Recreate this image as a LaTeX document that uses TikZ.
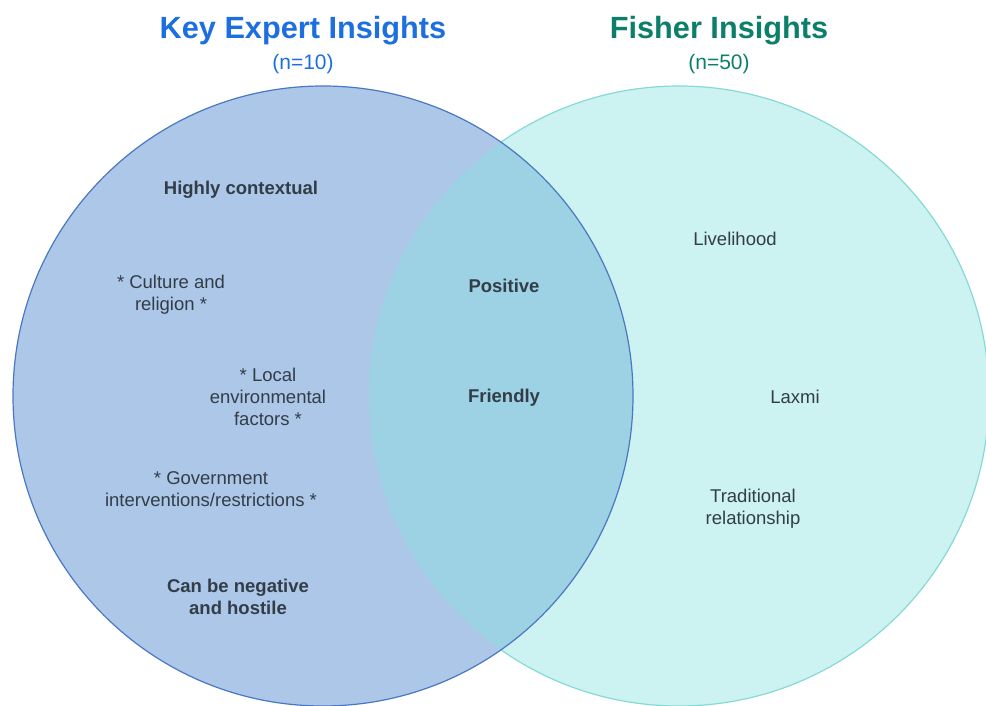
\documentclass[tikz,border=0pt]{standalone}
\usepackage{fontspec}
\setmainfont{Liberation Sans}
\definecolor{exfill}{HTML}{ACC7E8}
\definecolor{exline}{HTML}{4A78C2}
\definecolor{fishfill}{HTML}{CCF2F1}
\definecolor{fishline}{HTML}{86DAD6}
\definecolor{overlapfill}{HTML}{9DD2E5}
\definecolor{exblue}{HTML}{1D6FE0}
\definecolor{fishgreen}{HTML}{0B7F69}
\definecolor{inkgray}{HTML}{333D47}
\begin{document}
\begin{tikzpicture}[x=1pt,y=-1pt,
  body/.style={text=inkgray, font=\fontsize{18.5}{22}\selectfont, align=center, inner sep=0pt},
  bodybold/.style={body, font=\fontsize{18.5}{22}\selectfont\bfseries},
  title/.style={font=\fontsize{30.7}{34}\selectfont\bfseries, inner sep=0pt},
  subtitle/.style={font=\fontsize{21}{24}\selectfont, inner sep=0pt}]
\useasboundingbox (0,0) rectangle (986,706);
\clip (0,0) rectangle (986,706);

% circle centres
\coordinate (cl) at (323,396);
\coordinate (cr) at (679,396);

% Fisher circle underneath
\filldraw[fill=fishfill, draw=fishline, line width=1.2pt] (cr) circle (310pt);
% Key expert circle on top
\fill[exfill] (cl) circle (310pt);
% shared region
\begin{scope}
  \clip (cr) circle (310pt);
  \fill[overlapfill] (cl) circle (310pt);
\end{scope}
\draw[exline, line width=1.2pt] (cl) circle (310pt);

% headings
\node[title, text=exblue] (ttl) at (303,31) {Key Expert Insights};
\node[subtitle, text=exblue] (nl) at (303,64) {(n=10)};
\node[title, text=fishgreen] (ttr) at (719,31) {Fisher Insights};
\node[subtitle, text=fishgreen] (nr) at (719,64) {(n=50)};

% key expert insights
\node[bodybold] (ctx) at (241,190) {Highly contextual};
\node[body] (cult) at (171,295) {* Culture and\\religion *};
\node[body] (env) at (268,397) {* Local\\environmental\\factors *};
\node[body] (gov) at (211,489) {* Government\\interventions/restrictions *};
\node[bodybold] (neg) at (238,597) {Can be negative\\and hostile};

% shared insights
\node[bodybold] (pos) at (504,286) {Positive};
\node[bodybold] (fri) at (504,398) {Friendly};

% fisher insights
\node[body] (live) at (735,239) {Livelihood};
\node[body] (lax) at (795,397) {Laxmi};
\node[body] (trad) at (753,509) {Traditional\\relationship};
\end{tikzpicture}
\end{document}
